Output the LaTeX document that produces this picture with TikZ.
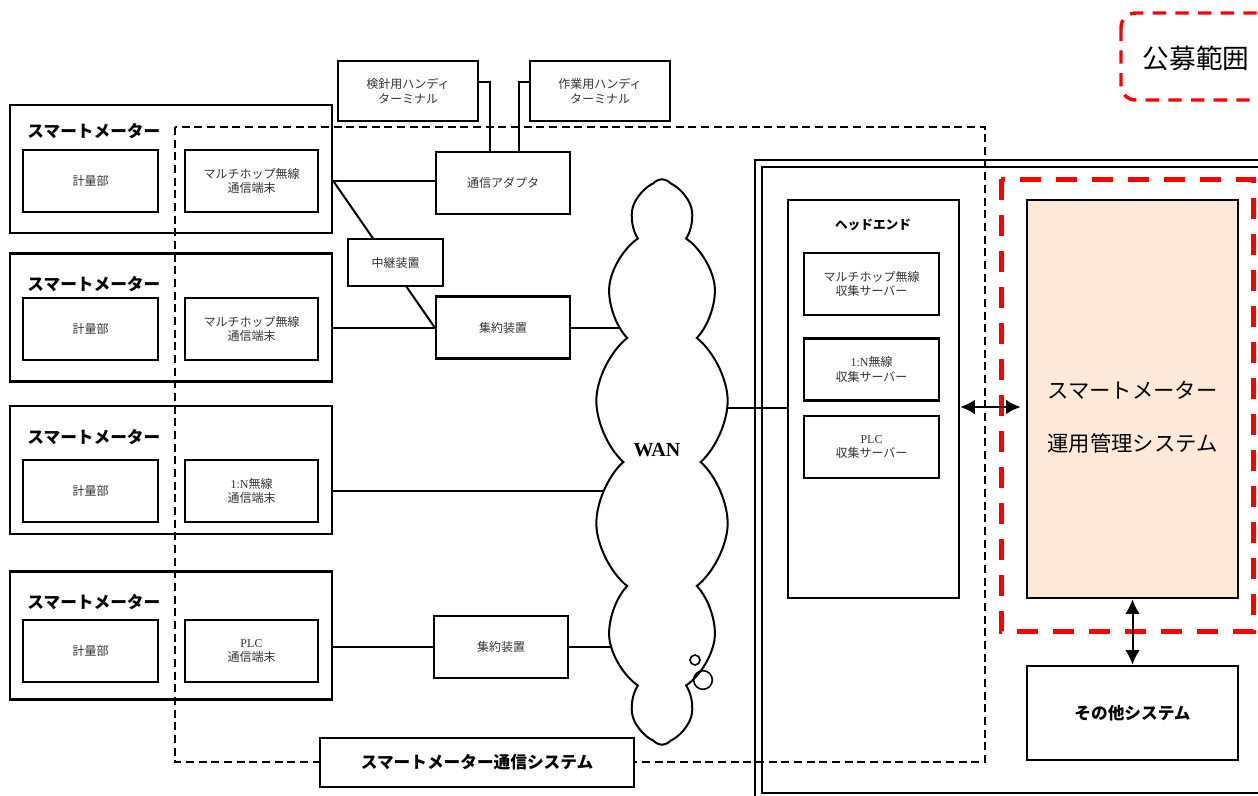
\documentclass[tikz,border=0pt]{standalone}
\usepackage{fontspec}
\setmainfont{Liberation Serif}
\newfontfamily\jp{Noto Sans CJK JP}
\usetikzlibrary{arrows.meta,calc,shapes.symbols,backgrounds}
\definecolor{opfill}{RGB}{252,233,218}
\tikzset{
  meter/.style={rectangle,draw,line width=1.9pt,minimum width=241.5pt,
    minimum height=96pt},
  partbox/.style={rectangle,draw,line width=1.9pt,fill=white,
    minimum width=101pt,minimum height=46.5pt,align=center,inner sep=2pt,
    font=\jp\fontsize{9}{11}\selectfont,text=black!80},
  devbox/.style={partbox,minimum width=100.5pt},
  headlab/.style={font=\jp\bfseries\fontsize{12.5}{14}\selectfont},
  conn/.style={line width=1.5pt},
  dblarr/.style={{Latex[length=11pt,width=11pt]}-{Latex[length=11pt,width=11pt]},
    line width=1.5pt},
  % dashed frames: black = communication system, red = tender scope
  commframe/.style={draw,line width=1.7pt,dash pattern=on 6pt off 3.5pt},
  reddash/.style={draw=red,line width=3.75pt,dash pattern=on 16pt off 11pt},
  hesys/.style={draw,double,line width=1.4pt,double distance=3.8pt}
}
\begin{document}
\begin{tikzpicture}[x=0.75pt,y=-0.75pt]
  \useasboundingbox (0,0) rectangle (1258,796);
  \clip (0,0) rectangle (1258,796);

  \draw[commframe] (175,127) rectangle (985,762);

  % smart meters
  \node[meter] (m1) at (171,169) {};
  \node[meter] (m2) at (171,317.5) {};
  \node[meter] (m3) at (171,470) {};
  \node[meter] (m4) at (171,635.5) {};
  \node[headlab,anchor=west] (m1lab) at ($(m1.north west)+(14,27)$) {スマートメーター};
  \node[headlab,anchor=west] (m2lab) at ($(m2.north west)+(14,32)$) {スマートメーター};
  \node[headlab,anchor=west] (m3lab) at ($(m3.north west)+(14,32)$) {スマートメーター};
  \node[headlab,anchor=west] (m4lab) at ($(m4.north west)+(14,32)$) {スマートメーター};
  \node[partbox] (meas1) at (90.5,181) {計量部};
  \node[partbox] (meas2) at (90.5,329) {計量部};
  \node[partbox] (meas3) at (90.5,491) {計量部};
  \node[partbox] (meas4) at (90.5,651) {計量部};
  \node[partbox,minimum width=100pt] (comm1) at (251.5,181) {マルチホップ無線\\通信端末};
  \node[partbox,minimum width=100pt] (comm2) at (251.5,329) {マルチホップ無線\\通信端末};
  \node[partbox,minimum width=100pt] (comm3) at (251.5,491) {{\rmfamily 1:N}無線\\通信端末};
  \node[partbox,minimum width=100pt] (comm4) at (251.5,651) {{\rmfamily PLC}\\通信端末};

  % field devices
  \node[devbox,minimum width=105pt,minimum height=45pt] (kenshin) at (408,91) {検針用ハンディ\\ターミナル};
  \node[devbox,minimum width=105pt,minimum height=45pt] (sagyo) at (600,91) {作業用ハンディ\\ターミナル};
  \node[devbox] (adapter) at (503,183) {通信アダプタ};
  \node[devbox,minimum width=71.25pt,minimum height=35.25pt] (relay) at (395.5,262.5) {中継装置};
  \node[devbox] (agg1) at (503,327.5) {集約装置};
  \node[devbox] (agg2) at (501,647) {集約装置};

  \node[cloud,draw,fill=white,line width=1.5pt,cloud puffs=14,cloud puff arc=100,
    cloud ignores aspect,minimum width=101pt,minimum height=424pt,
    font=\rmfamily\bfseries\fontsize{15}{15}\selectfont] (wan) at (662,462) {};
  \node[font=\rmfamily\bfseries\fontsize{15}{15}\selectfont] (wanlab) at (657,450) {WAN};
  \draw[line width=1.2pt] (695,660) circle[radius=3.75pt];
  \draw[line width=1.2pt] (703,680) circle[radius=7pt];

  \node[rectangle,draw,line width=1.9pt,fill=white,minimum width=235.5pt,
    minimum height=36.75pt,headlab] (commsys) at (477,762.5) {スマートメーター通信システム};

  % head end
  \node[rectangle,draw,line width=1.9pt,minimum width=128.25pt,minimum height=298.5pt] (headend) at (873.5,399) {};
  \node[font=\jp\bfseries\fontsize{9.5}{11}\selectfont] (helab) at (873,225) {ヘッドエンド};
  \node[partbox] (srv1) at (871.5,284) {マルチホップ無線\\収集サーバー};
  \node[partbox] (srv2) at (871.5,369.5) {{\rmfamily 1:N}無線\\収集サーバー};
  \node[partbox] (srv3) at (871.5,447) {{\rmfamily PLC}\\収集サーバー};

  \draw[reddash] (1001,179) rectangle (1253,631);
  \node[rectangle,draw,line width=1.9pt,fill=opfill,minimum width=158.25pt,
    minimum height=298.5pt,align=center,font=\jp\fontsize{16}{40}\selectfont] (oper) at (1132.5,399)
    {\\スマートメーター\\運用管理システム};
  \node[rectangle,draw,line width=1.9pt,minimum width=158.25pt,minimum height=70.5pt,
    headlab] (other) at (1132.5,713) {その他システム};

  \draw[dblarr] ($(headend.east)+(0,8)$) -- ($(oper.west)+(-5,8)$);
  \draw[dblarr] (oper.south) -- (other.north);

  \draw[draw=red,line width=2.6pt,dash pattern=on 10pt off 7pt,rounded corners=11pt]
    (1121,13) rectangle (1300,100);
  \node[font=\jp\fontsize{20}{22}\selectfont] (koubo) at (1196,58) {公募範囲};

  \begin{scope}[on background layer]
    \clip (0,0) rectangle (1258,796);
    \draw[hesys] (758.5,163.5) rectangle (1300,796.5);
    \coordinate (m1out) at (comm1.east -| m1.east);
    \draw[conn] (m1out) -- (m1out -| adapter.west);
    \draw[conn] (m1out) -- (agg1.west);
    \draw[conn] (agg1.west -| m2.east) -- (agg1.west);
    \draw[conn] (agg1.east) -- (agg1.east -| wan.center);
    \draw[conn] (comm3.east -| m3.east) -- (comm3.east -| wan.center);
    \draw[conn] (agg2.west -| m4.east) -- (agg2.west);
    \draw[conn] (agg2.east) -- (agg2.east -| wan.center);
    \coordinate (hein) at ($(headend.west)+(0,9)$);
    \draw[conn] (hein) -- (hein -| wan.center);
    \draw[conn] ($(kenshin.east)+(0,-9)$) -| ($(adapter.north)+(-13,0)$);
    \draw[conn] ($(sagyo.west)+(0,-9)$) -| ($(adapter.north)+(16,0)$);
  \end{scope}
\end{tikzpicture}
\end{document}
